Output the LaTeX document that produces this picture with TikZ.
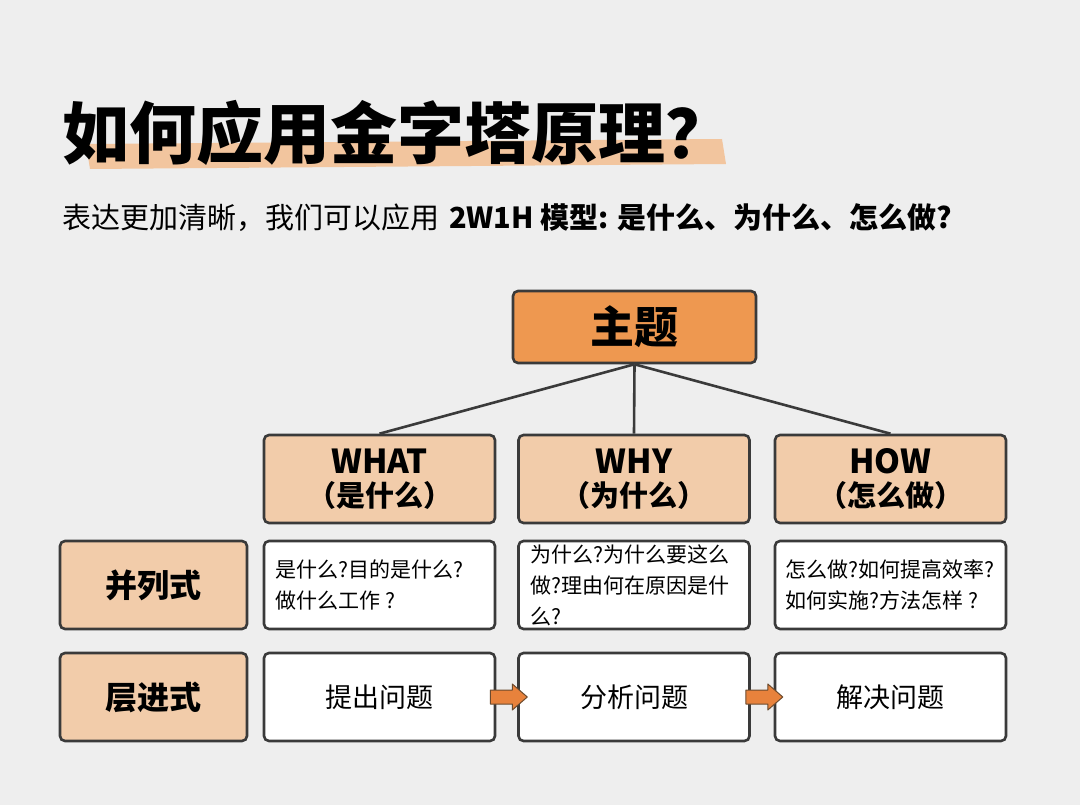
\documentclass[tikz,border=0pt]{standalone}
\usepackage{fontspec}
\setmainfont{Noto Sans CJK SC}
\usetikzlibrary{calc}
\definecolor{bg}{HTML}{EEEEEE}
\definecolor{edge}{HTML}{3A3A3A}
\definecolor{topicfill}{HTML}{EE9850}
\definecolor{peach}{HTML}{F2CCAA}
\definecolor{hl}{HTML}{F2C59E}
\definecolor{arrowfill}{HTML}{E8823C}
\definecolor{arrowedge}{HTML}{6B4A2E}
\begin{document}
\begin{tikzpicture}[x=1pt,y=-1pt,
  box/.style={draw=edge, line width=2.6pt, rounded corners=5pt, inner sep=0pt},
  topic/.style={box, fill=topicfill, minimum width=243pt, minimum height=72pt, font=\fontsize{44}{48}\selectfont\bfseries},
  head/.style={box, fill=peach, minimum width=231pt, minimum height=88pt, align=center, font=\bfseries\fontsize{29}{33}\selectfont},
  side/.style={box, fill=peach, minimum width=187pt, minimum height=88pt, font=\fontsize{32}{36}\selectfont\bfseries},
  cell/.style={box, fill=white, minimum width=231pt, minimum height=88pt},
  celltext/.style={anchor=west, align=left, inner sep=0pt, font=\fontsize{21}{31}\selectfont},
  steptext/.style={font=\fontsize{27}{30}\selectfont},
  link/.style={draw=edge, line width=2.6pt},
  blockarrow/.style={fill=arrowfill, draw=arrowedge, line width=1pt, line join=round}
]
\fill[bg] (0,0) rectangle (1080,805);
\useasboundingbox (0,0) rectangle (1080,805);

% title highlight
\fill[hl] (86,144) -- (722,139) -- (726,164) -- (90,169) -- cycle;
\node[anchor=west, inner sep=0pt, font=\fontsize{67}{70}\selectfont\bfseries] (title) at (62,133) {如何应用金字塔原理？};
\node[anchor=west, inner sep=0pt, font=\fontsize{29}{31}\selectfont] (sub) at (62,218) {表达更加清晰，我们可以应用\hspace{10pt}{\bfseries 2W1H 模型: 是什么、为什么、怎么做?}};

% topic
\node[topic] (topic) at (634.5,327) {主题};

% heads
\node[head] (what) at (379.5,479) {{\fontsize{33}{33}\selectfont WHAT}\\（是什么）};
\node[head] (why) at (634,479) {{\fontsize{33}{33}\selectfont WHY}\\（为什么）};
\node[head] (how) at (890.5,479) {{\fontsize{33}{33}\selectfont HOW}\\（怎么做）};

\draw[link] (topic.south) -- (what.north);
\draw[link] (topic.south) -- (why.north);
\draw[link] (topic.south) -- (how.north);

% side labels
\node[side] (bl) at (153.5,585) {并列式};
\node[side] (cj) at (153.5,697) {层进式};

% row 1
\node[cell] (r1c1) at (379.5,585) {};
\node[cell] (r1c2) at (634,585) {};
\node[cell] (r1c3) at (890.5,585) {};
\node[celltext] (t11) at ([xshift=13pt]r1c1.west) {是什么?目的是什么?\\做什么工作 ?};
\node[celltext] (t12) at ([xshift=13pt]r1c2.west) {为什么?为什么要这么\\做?理由何在原因是什\\么?};
\node[celltext] (t13) at ([xshift=12pt]r1c3.west) {怎么做?如何提高效率?\\如何实施?方法怎样 ?};

% row 2
\node[cell, steptext] (r2c1) at (379.5,697) {提出问题};
\node[cell, steptext] (r2c2) at (634,697) {分析问题};
\node[cell, steptext] (r2c3) at (890.5,697) {解决问题};

% block arrows
\draw[blockarrow] ($(r2c1.east)+(-6,-7)$) -- ++(22,0) -- ++(0,-6) -- ++(15,13) -- ++(-15,13) -- ++(0,-6) -- ++(-22,0) -- cycle;
\draw[blockarrow] ($(r2c2.east)+(-5,-7)$) -- ++(22,0) -- ++(0,-6) -- ++(15,13) -- ++(-15,13) -- ++(0,-6) -- ++(-22,0) -- cycle;
\end{tikzpicture}
\end{document}
